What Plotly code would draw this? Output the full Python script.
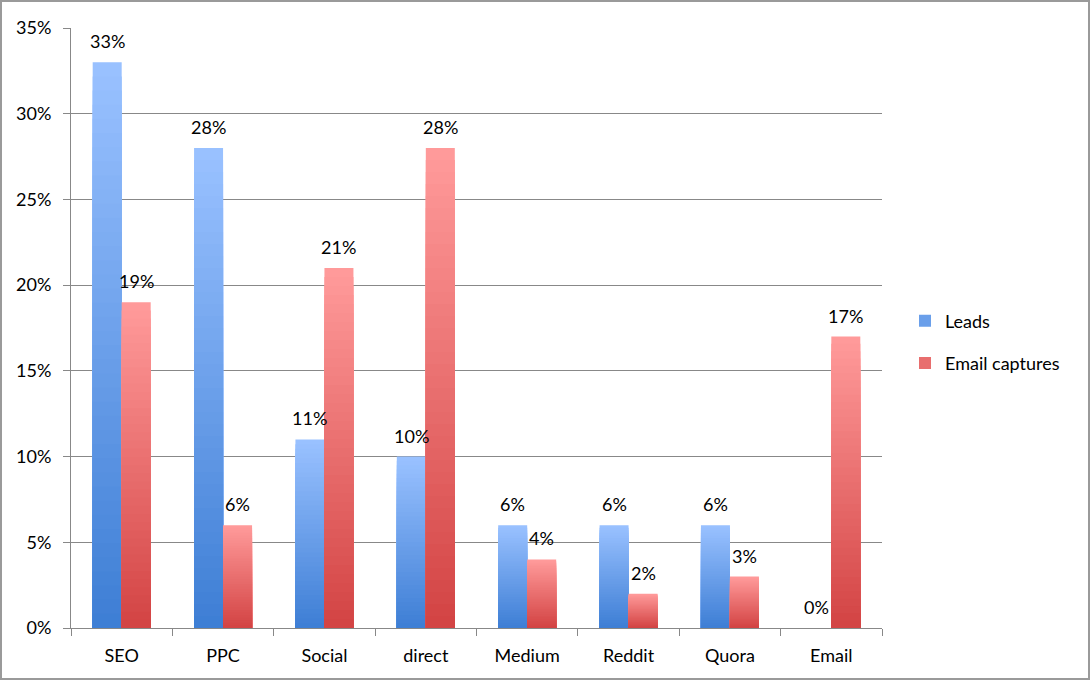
import plotly.graph_objects as go

categories = ["SEO", "PPC", "Social", "direct", "Medium", "Reddit", "Quora", "Email"]
leads = [33, 28, 11, 10, 6, 6, 6, 0]
email_captures = [19, 6, 21, 28, 4, 2, 3, 17]
y_ticks = [0, 5, 10, 15, 20, 25, 30, 35]
y_tick_labels = ["0%", "5%", "10%", "15%", "20%", "25%", "30%", "35%"]

W, H = 1091, 681
L, R, T, B = 71, 209, 28, 53
FONT = "Lato, 'Open Sans', sans-serif"
FS = 18

series = [
    ("Leads", leads, (0x99, 0xC1, 0xFF), (0x3C, 0x7D, 0xD4)),
    ("Email captures", email_captures, (0xFF, 0x9A, 0x9A), (0xD2, 0x42, 0x42)),
]

N = 40
fig = go.Figure()


def mix(c1, c2, t):
    return "rgb(%d,%d,%d)" % tuple(round(a + (b - a) * t) for a, b in zip(c1, c2))


for name, vals, top, bot in series:
    # overlapping bars give a vertical gradient per bar
    for k in range(N, 0, -1):
        f = k / N
        fig.add_trace(go.Bar(
            x=categories, y=[v * f for v in vals], name=name,
            offsetgroup=name, legendgroup=name, showlegend=False,
            marker=dict(color=mix(bot, top, f), line=dict(width=0)),
            hoverinfo="skip",
        ))
    # legend entry
    fig.add_trace(go.Bar(
        x=[categories[0]], y=[None], name=name, offsetgroup=name, legendgroup=name,
        showlegend=True, marker=dict(color=mix(bot, top, 0.5), line=dict(width=0)),
    ))

cat_w = (W - L - R) / len(categories)
bar_w = cat_w * (1 - 0.428) / 2
annotations = []
for si, (name, vals, *_ ) in enumerate(series):
    xs = -bar_w / 2 if si == 0 else bar_w / 2
    for c, v in zip(categories, vals):
        annotations.append(dict(
            x=c, y=v, text=f"{v}%", showarrow=False, xshift=xs, yshift=8,
            yanchor="bottom", font=dict(size=FS, color="black", family=FONT),
        ))

pw = W - L - R
ph = H - T - B
fig.add_shape(type="rect", xref="paper", yref="paper",
              x0=(1 - L) / pw, x1=(W - 2 - L) / pw,
              y0=-(H - 2 - T - ph) / ph, y1=1 + (T - 1) / ph,
              line=dict(color="#9a9a9a", width=2), layer="below")

fig.update_layout(
    width=W, height=H, margin=dict(l=L, r=R, t=T, b=B),
    paper_bgcolor="white", plot_bgcolor="white",
    barmode="group", bargap=0.428, bargroupgap=0,
    font=dict(family=FONT, size=FS, color="black"),
    annotations=annotations,
    legend=dict(x=(905 - L) / pw, y=(628 - 342) / ph, xanchor="left", yanchor="middle",
                font=dict(size=FS, family=FONT), tracegroupgap=16, bgcolor="rgba(0,0,0,0)"),
    showlegend=True,
)
fig.update_xaxes(type="category", showgrid=False, showline=True, linecolor="#888888", linewidth=1,
                 ticks="outside", tickson="boundaries", ticklen=7, tickcolor="#888888",
                 ticklabelstandoff=11, tickfont=dict(size=FS, family=FONT))
fig.update_yaxes(range=[0, 35], tickvals=y_ticks, ticktext=y_tick_labels,
                 showgrid=True, gridcolor="#888888", gridwidth=1,
                 showline=True, linecolor="#888888", linewidth=1,
                 ticks="outside", ticklen=7, tickcolor="#888888",
                 ticklabelstandoff=8, tickfont=dict(size=FS, family=FONT), zeroline=False)

fig.write_html("out.html", config={"displayModeBar": False},
               post_script="document.body.style.margin='0';document.body.style.overflow='hidden';")
